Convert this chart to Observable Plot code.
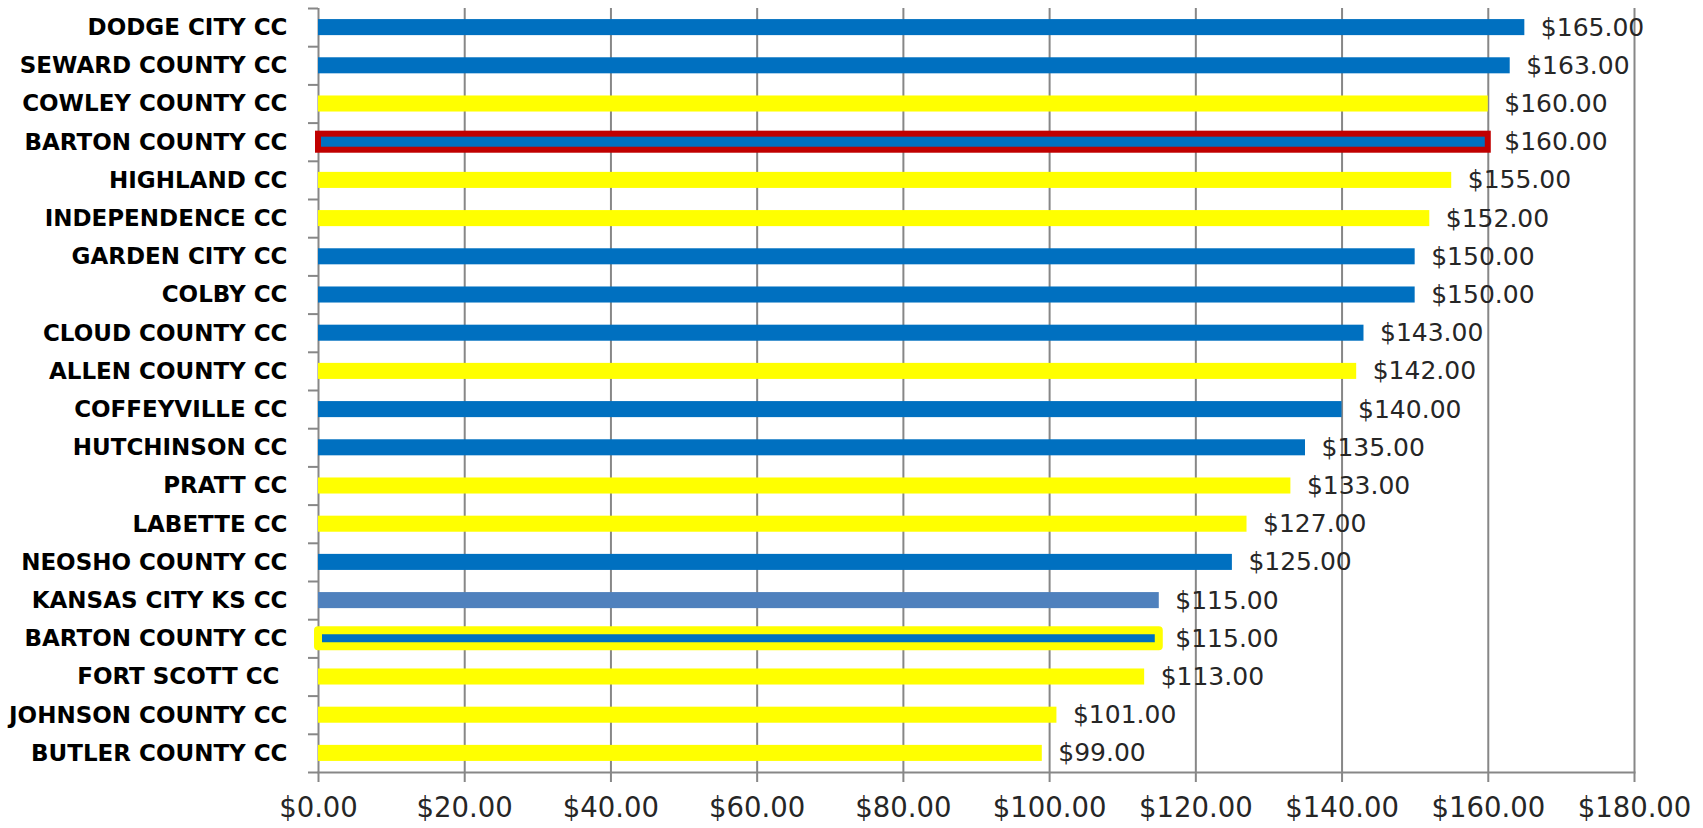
<!DOCTYPE html>
<html>
<head>
<meta charset="utf-8">
<script src="https://cdn.jsdelivr.net/npm/d3@7"></script>
<script src="https://cdn.jsdelivr.net/npm/@observablehq/plot@0.6"></script>
<style>
  html, body { margin: 0; padding: 0; background: #fff; }
  svg text { white-space: pre; }
</style>
</head>
<body>
<div id="chart"></div>
<script>
// ---- data ----
const colleges = [
  "DODGE CITY CC", "SEWARD COUNTY CC", "COWLEY COUNTY CC", "BARTON COUNTY CC",
  "HIGHLAND CC", "INDEPENDENCE CC", "GARDEN CITY CC", "COLBY CC",
  "CLOUD COUNTY CC", "ALLEN COUNTY CC", "COFFEYVILLE CC", "HUTCHINSON CC",
  "PRATT CC", "LABETTE CC", "NEOSHO COUNTY CC", "KANSAS CITY KS CC",
  "BARTON COUNTY CC", "FORT SCOTT CC ", "JOHNSON COUNTY CC", "BUTLER COUNTY CC"
];
const costs = [165, 163, 160, 160, 155, 152, 150, 150, 143, 142, 140, 135, 133, 127, 125, 115, 115, 113, 101, 99];
const groups = [
  "blue", "blue", "yellow", "blue", "yellow", "yellow", "blue", "blue",
  "blue", "yellow", "blue", "blue", "yellow", "yellow", "blue", "steel",
  "blue", "yellow", "yellow", "yellow"
];
const outlines = [
  "", "", "", "red", "", "", "", "", "", "", "", "", "", "", "", "", "yellow", "", "", ""
];
const xTicks = [0, 20, 40, 60, 80, 100, 120, 140, 160, 180];

// ---- build ----
const rows = colleges.map((name, i) => ({i, name, cost: costs[i], group: groups[i], outline: outlines[i]}));
const fillOf = {blue: "#0070C0", yellow: "#FFFF00", steel: "#4F81BD"};
const gray = "#878787";
const W = 1703, H = 828;
const mTop = 8, mBottom = 56, mLeft = 318, mRight = 69;
const step = (H - mTop - mBottom) / colleges.length;
const money = v => "$" + v.toFixed(2);

const chart = Plot.plot({
  width: W,
  height: H,
  marginTop: mTop,
  marginBottom: mBottom,
  marginLeft: mLeft,
  marginRight: mRight,
  style: {fontFamily: "DejaVu Sans, sans-serif", background: "#fff"},
  x: {domain: [0, 180], axis: null},
  y: {domain: rows.map(d => d.i), paddingInner: 0.58, paddingOuter: 0.29, round: false, axis: null},
  marks: [
    // gridlines (and x tick marks below axis)
    Plot.ruleX(xTicks, {stroke: gray, strokeWidth: 2, insetBottom: -10}),
    // bottom axis line
    Plot.frame({anchor: "bottom", stroke: gray, strokeWidth: 2}),
    // y category boundary ticks
    Plot.ruleY(rows, {y: "i", x1: 0, x2: 0, insetLeft: -10, dy: -step / 2, stroke: gray, strokeWidth: 2}),
    Plot.ruleY(rows.slice(-1), {y: "i", x1: 0, x2: 0, insetLeft: -10, dy: step / 2, stroke: gray, strokeWidth: 2}),
    // plain bars
    Plot.barX(rows.filter(d => !d.outline), {
      x: "cost", y: "i", fill: d => fillOf[d.group]
    }),
    // bar with red outline
    Plot.barX(rows.filter(d => d.outline === "red"), {
      x: "cost", y: "i", fill: d => fillOf[d.group], stroke: "#C00000", strokeWidth: 6
    }),
    // bar with yellow outline
    Plot.barX(rows.filter(d => d.outline === "yellow"), {
      x: "cost", y: "i", fill: d => fillOf[d.group], stroke: "#FFFF00", strokeWidth: 8, strokeLinejoin: "round"
    }),
    // value labels
    Plot.text(rows, {
      x: "cost", y: "i", text: d => money(d.cost), dx: 16, textAnchor: "start",
      fontSize: 25, fill: "#262626"
    }),
    // y labels
    Plot.axisY({
      tickSize: 0, tickPadding: 31, tickFormat: i => colleges[i],
      fontSize: 23, fontWeight: "bold", fill: "#000", label: null
    }),
    // x labels
    Plot.axisX({
      ticks: xTicks, tickSize: 0, tickPadding: 25, tickFormat: money,
      fontSize: 27.5, fill: "#262626", label: null
    })
  ]
});
document.getElementById("chart").appendChild(chart);
</script>
</body>
</html>
